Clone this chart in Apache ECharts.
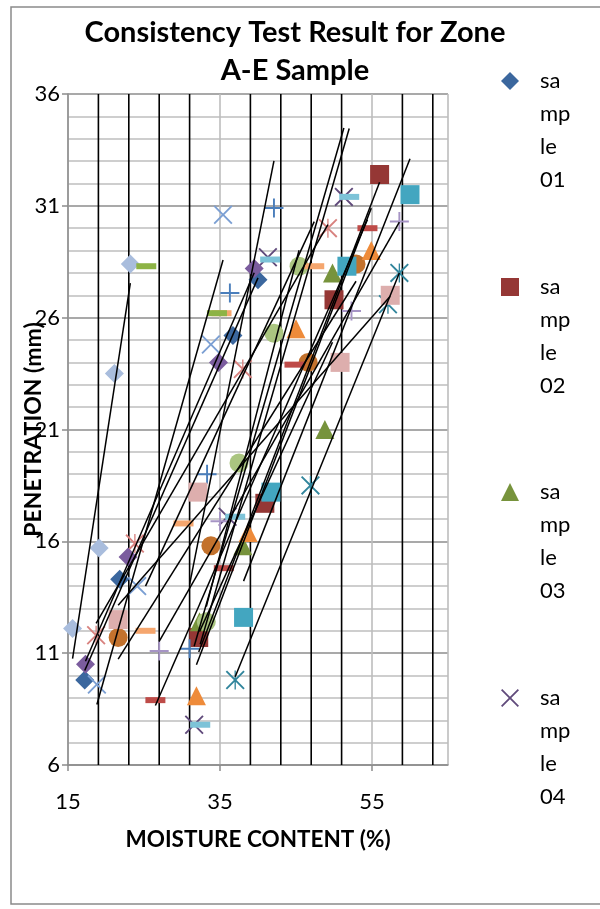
<!DOCTYPE html>
<html><head><meta charset="utf-8">
<script src="https://cdn.jsdelivr.net/npm/echarts@6/dist/echarts.min.js"></script>
<style>html,body{margin:0;padding:0;background:#fff}#c{width:600px;height:909px}</style>
</head><body><div id="c"></div>
<script>
// ---- data (moisture %, penetration mm) ----
const sample01 = [[17.2,9.8],[21.8,14.3],[36.7,25.2],[40.0,27.7]];
const sample02 = [[32.2,11.7],[40.9,17.7],[50.0,26.8],[56.0,32.4]];
const sample03 = [[32.3,12.4],[38.0,15.8],[48.8,21.0],[49.8,28.0]];
const sample04 = [[31.6,7.8],[36.0,17.1],[41.3,28.7],[51.3,31.4]];
const sample05 = [[37.0,9.8],[46.9,18.5],[57.1,26.6],[58.6,28.0]];
const sample06 = [[21.6,11.7],[33.8,15.8],[46.6,24.0],[52.9,28.4]];
const sample07 = [[31.0,11.2],[33.3,19.0],[36.3,27.1],[42.1,30.9]];
const sample08 = [[26.5,8.9],[35.5,14.8],[44.8,23.9],[54.4,30.0]];
const sample09 = [[15.6,12.1],[19.1,15.7],[21.1,23.5],[23.2,28.4]];
const sample10 = [[21.6,12.5],[32.1,18.2],[50.8,24.0],[57.4,27.0]];
const sample11 = [[31.9,9.1],[38.7,16.4],[45.0,25.5],[54.9,29.0]];
const sample12 = [[18.8,9.6],[24.1,14.0],[33.8,24.8],[35.4,30.6]];
const sample13 = [[18.7,11.8],[23.8,15.9],[38.0,23.7],[49.2,30.0]];
const sample14 = [[33.2,12.4],[37.5,19.5],[42.1,25.3],[45.4,28.3]];
const sample15 = [[27.0,11.1],[35.0,16.9],[52.3,26.3],[58.6,30.3]];
const sample16 = [[25.2,12.0],[30.2,16.8],[35.2,26.2],[47.4,28.3]];
const sample17 = [[17.3,10.5],[22.9,15.3],[34.8,24.0],[39.5,28.2]];
const sample18 = [[38.1,12.6],[41.7,18.2],[51.7,28.3],[60.0,31.5]];
const sample19 = [[32.4,7.8],[37.0,17.1],[41.6,28.6],[52.0,31.4]];
const sample20 = [[25.3,28.3],[34.6,26.2]];
const seriesNames = ['sample 01','sample 02','sample 03','sample 04','sample 05','sample 06','sample 07','sample 08','sample 09','sample 10','sample 11','sample 12','sample 13','sample 14','sample 15','sample 16','sample 17','sample 18','sample 19','sample 20'];
const seriesData = [sample01,sample02,sample03,sample04,sample05,sample06,sample07,sample08,sample09,sample10,sample11,sample12,sample13,sample14,sample15,sample16,sample17,sample18,sample19,sample20];
const withTrend = [1,1,1,1,1,1,1,1,1,1,1,1,1,1,1,1,1,1,1,0];
const minorGridX = [19,23,27,31,39,43,47,51,59,63];
const xRange = [15,65], yRange = [6,36];

// ---- styles ----
const P_PLUS = 'path://M9,0H11V9H20V11H11V20H9V11H0V9H9Z';
const P_X = 'path://M0,1.4L1.4,0L10,8.6L18.6,0L20,1.4L11.4,10L20,18.6L18.6,20L10,11.4L1.4,20L0,18.6L8.6,10Z';
const P_STAR = P_X + 'M9.3,0H10.7V20H9.3Z';
const styles = [
  ['diamond','#3B679E',19],['rect','#953735',19],['triangle','#77933C',19],[P_X,'#604A7B',19],
  [P_STAR,'#31859C',19],['circle','#C3722D',19],[P_PLUS,'#4A7EBB',19],['rect','#BE4B48',[20,6]],
  ['diamond','#A9BDDD',19],['rect','#DDAEAD',19],['triangle','#EE8B3A',19],[P_X,'#7B9FD3',19],
  [P_STAR,'#D8827F',19],['circle','#AAC580',19],[P_PLUS,'#A694C5',19],['rect','#F5A66E',[20,6]],
  ['diamond','#7B5C9E',19],['rect','#43A6C0',19],['rect','#7DC3D8',[20,6]],['rect','#8DB345',[20,6]]
];
const FONT = 'Lato, "Open Sans", sans-serif';

function fit(pts){
  const n = pts.length; let mx=0,my=0;
  pts.forEach(p=>{mx+=p[0];my+=p[1];}); mx/=n; my/=n;
  let sxx=0,sxy=0; pts.forEach(p=>{sxx+=(p[0]-mx)*(p[0]-mx); sxy+=(p[0]-mx)*(p[1]-my);});
  const b = sxy/sxx, a = my-b*mx;
  const xs = pts.map(p=>p[0]); const x0=Math.min(...xs), x1=Math.max(...xs);
  return [[x0,a+b*x0],[x1,a+b*x1]];
}

const series = [];
series.push({
  type:'custom', name:'grid', z:1, silent:true,
  data: minorGridX.map(v=>[v, yRange[0]]),
  encode:{x:0,y:1},
  renderItem:function(params, api){
    const x = api.value(0);
    const t = api.coord([x, yRange[1]]), b = api.coord([x, yRange[0]]);
    return {type:'line', shape:{x1:t[0],y1:t[1],x2:b[0],y2:b[1]}, style:{stroke:'#000',lineWidth:1.6}};
  }
});
seriesData.forEach((d,i)=>{
  series.push({
    type:'scatter', name:seriesNames[i], data:d, z:2+i*0.01,
    symbol:styles[i][0], symbolSize:styles[i][2],
    itemStyle:{color:styles[i][1], opacity:1}, emphasis:{disabled:true}
  });
});
seriesData.forEach((d,i)=>{
  if(!withTrend[i]) return;
  series.push({
    type:'line', name:'trend '+seriesNames[i], data:fit(d), z:5, silent:true,
    symbol:'none', lineStyle:{color:'#000',width:1.5}
  });
});

function legendFmt(name){
  const s = name.replace(' ','');
  const parts = []; for(let i=0;i<s.length;i+=2) parts.push(s.slice(i,i+2));
  // blank lines in front keep the first text line level with the marker
  return '\n'.repeat(parts.length-1) + parts.join('\n');
}
const legendCenters = [81,287,492,698];
const legends = legendCenters.map((c,i)=>({
  data:[seriesNames[i]], orient:'vertical', left:496, top:c-5-9-(7*33/2-9), padding:5,
  itemWidth:18, itemHeight:18, selectedMode:false, formatter:legendFmt,
  textStyle:{fontSize:22, lineHeight:33, padding:[0,0,0,16], color:'#000', fontFamily:FONT}
}));

const chart = echarts.init(document.getElementById('c'));
chart.setOption({
  animation:false,
  backgroundColor:'#fff',
  textStyle:{fontFamily:FONT},
  title:{text:'Consistency Test Result for Zone\nA-E Sample', left:290, top:9, textAlign:'center',
    textStyle:{fontSize:29, fontWeight:'bold', lineHeight:38, color:'#000', fontFamily:FONT}},
  legend:legends,
  graphic:[{type:'rect', silent:true, z:-1, shape:{x:11,y:7,width:600,height:897}, style:{fill:'none',stroke:'#8A8A8A',lineWidth:1.5}}],
  grid:{left:68, right:152, top:94, bottom:144, containLabel:false},
  xAxis:{type:'value', min:xRange[0], max:xRange[1], interval:20,
    name:'MOISTURE CONTENT (%)', nameLocation:'middle', nameGap:63, nameMoveOverlap:false,
    nameTextStyle:{fontSize:22.5, fontWeight:'bold', color:'#000', fontFamily:FONT},
    axisLine:{show:true, lineStyle:{color:'#8C8C8C', width:1.5}},
    axisTick:{show:true, length:6, lineStyle:{color:'#8C8C8C', width:1.5}},
    axisLabel:{fontSize:22, color:'#000', margin:26, showMaxLabel:false, fontFamily:FONT},
    splitLine:{show:true, lineStyle:{color:'#BDBDBD', width:1.6}}
  },
  yAxis:{type:'value', min:yRange[0], max:yRange[1], interval:5,
    name:'PENETRATION (mm)', nameLocation:'middle', nameGap:23, nameRotate:90, nameMoveOverlap:false,
    nameTextStyle:{fontSize:23, fontWeight:'bold', color:'#000', fontFamily:FONT},
    axisLine:{show:true, lineStyle:{color:'#8C8C8C', width:1.5}},
    axisTick:{show:true, length:6, lineStyle:{color:'#8C8C8C', width:1.5}},
    axisLabel:{fontSize:22, color:'#000', margin:8, fontFamily:FONT},
    splitLine:{show:true, lineStyle:{color:'#8C8C8C', width:1.6}},
    minorTick:{show:false, splitNumber:5},
    minorSplitLine:{show:true, lineStyle:{color:'#BEBEBE', width:1.6}}
  },
  series:series
});
</script></body></html>
